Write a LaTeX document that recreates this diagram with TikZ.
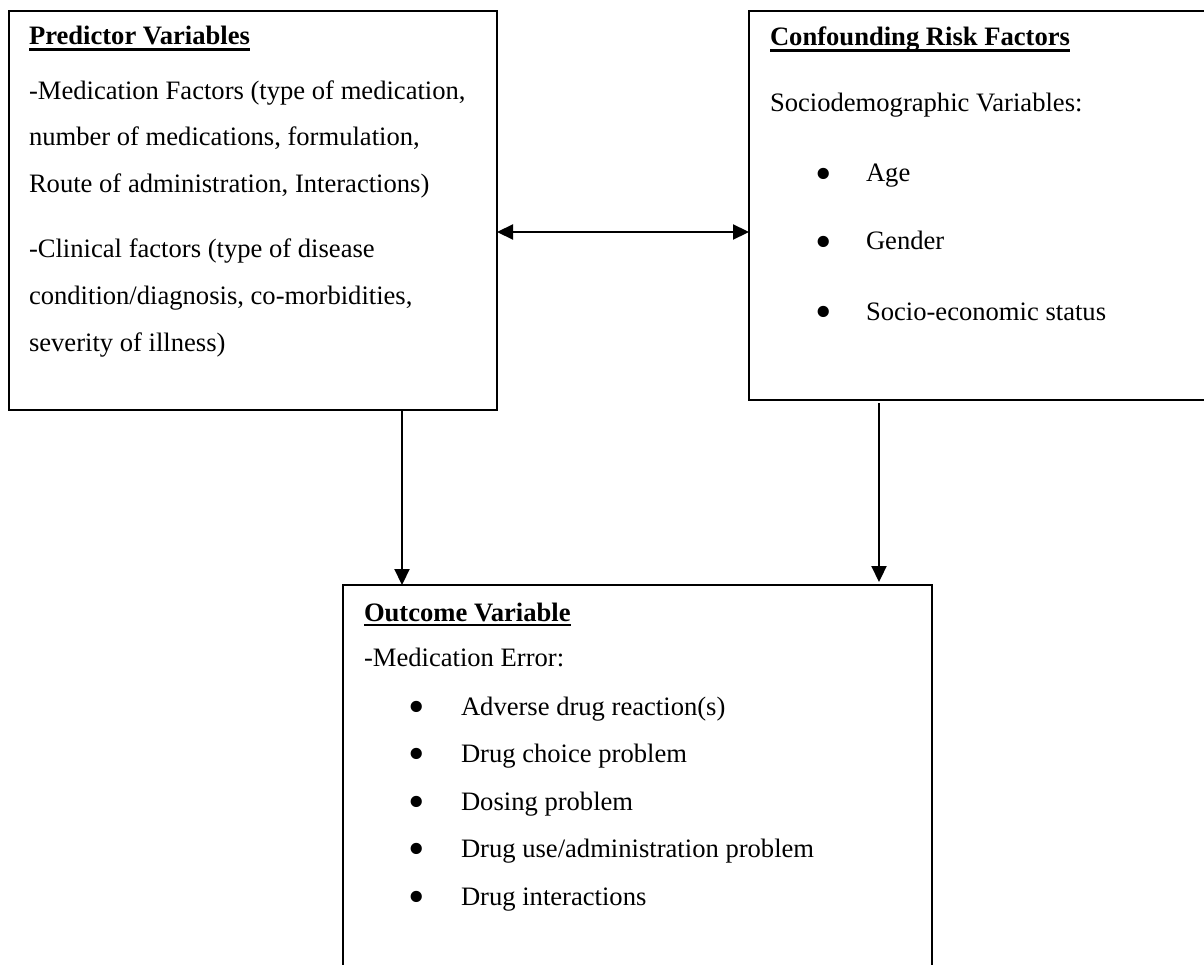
\documentclass[tikz,border=0pt]{standalone}
\usepackage{fontspec}
\setmainfont{Liberation Serif}
\usetikzlibrary{arrows.meta}
\tikzset{
  box/.style={draw=black, line width=2pt, inner sep=0pt, outer sep=0pt, anchor=north west},
  txt/.style={inner sep=0pt, outer sep=0pt, anchor=base west, font=\fontsize{26.6}{32}\selectfont},
  ttl/.style={txt, font=\fontsize{26.6}{32}\selectfont\bfseries},
  bul/.style={inner sep=0pt, outer sep=0pt, anchor=center, yshift=-4pt, font=\fontsize{47}{47}\selectfont},
  uline/.style={line width=2.2pt},
  arr/.style={line width=2.2pt, -{Triangle[length=16pt,width=15pt]}},
  darr/.style={line width=2.2pt, {Triangle[length=16pt,width=15pt]}-{Triangle[length=16pt,width=15pt]}}
}
\begin{document}
\begin{tikzpicture}[x=1pt,y=-1pt]
\clip (0,0) rectangle (1204,965);
\fill[white] (0,0) rectangle (1204,965);
% boxes
\node[box, minimum width=488pt, minimum height=399pt] (pred) at (9,11) {};
\node[box, minimum width=480pt, minimum height=389pt] (conf) at (749,11) {};
\node[box, minimum width=589pt, minimum height=420pt] (out) at (343,585) {};
% predictor texts
\node[ttl] (pt) at (29,45) {Predictor Variables};
\draw[uline] ([yshift=-4.5pt]pt.base west) -- ([yshift=-4.5pt]pt.base east);
\node[txt] (p1) at (29,100) {-Medication Factors (type of medication,};
\node[txt] (p2) at (29,146) {number of medications, formulation,};
\node[txt] (p3) at (29,192.5) {Route of administration, Interactions)};
\node[txt] (p4) at (29,258) {-Clinical factors (type of disease};
\node[txt] (p5) at (29,305) {condition/diagnosis, co-morbidities,};
\node[txt] (p6) at (29,351.5) {severity of illness)};
% confounding texts
\node[ttl] (ct) at (770,46) {Confounding Risk Factors};
\draw[uline] ([yshift=-4.5pt]ct.base west) -- ([yshift=-4.5pt]ct.base east);
\node[txt] (c0) at (770,112) {Sociodemographic Variables:};
\node[bul] (cb1) at (824,175) {•};
\node[txt] (c1) at (866,182) {Age};
\node[bul] (cb2) at (824,243) {•};
\node[txt] (c2) at (866,250) {Gender};
\node[bul] (cb3) at (824,313) {•};
\node[txt] (c3) at (866,320) {Socio-economic status};
% outcome texts
\node[ttl] (ot) at (364,621) {Outcome Variable};
\draw[uline] ([yshift=-4pt]ot.base west) -- ([yshift=-4pt]ot.base east);
\node[txt] (o0) at (364,666) {-Medication Error:};
\node[bul] (ob1) at (417,708) {•};
\node[txt] (o1) at (461,715) {Adverse drug reaction(s)};
\node[bul] (ob2) at (417,755) {•};
\node[txt] (o2) at (461,762) {Drug choice problem};
\node[bul] (ob3) at (417,803) {•};
\node[txt] (o3) at (461,810) {Dosing problem};
\node[bul] (ob4) at (417,850) {•};
\node[txt] (o4) at (461,857) {Drug use/administration problem};
\node[bul] (ob5) at (417,898) {•};
\node[txt] (o5) at (461,905) {Drug interactions};
% connectors
\coordinate (ylev) at (0,232);
\coordinate (xl) at (402,0);
\coordinate (xr) at (879,0);
\draw[darr] (pred.east |- ylev) -- (conf.west |- ylev);
\draw[arr] (pred.south -| xl) -- (out.north -| xl);
\draw[arr] ([yshift=-3pt]conf.south -| xr) -- ([yshift=3pt]out.north -| xr);
\end{tikzpicture}
\end{document}
